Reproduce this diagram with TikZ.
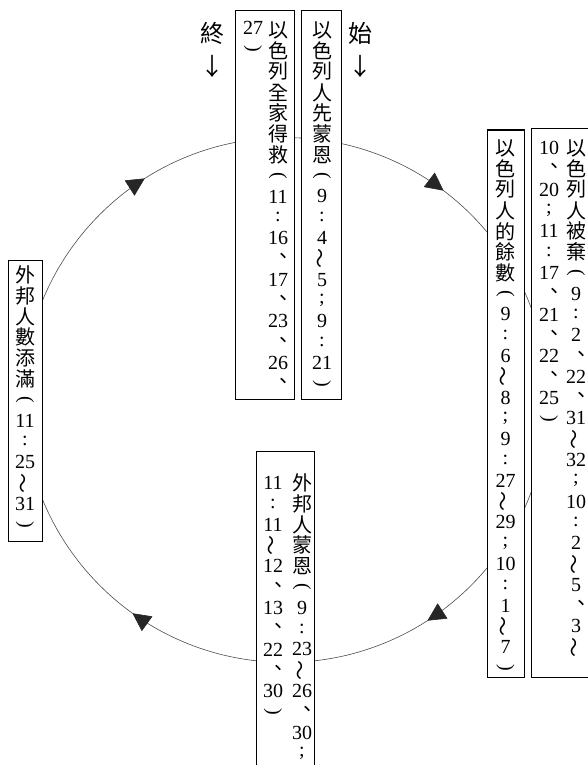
\documentclass[tikz,border=0pt]{standalone}
\usepackage{fontspec}
\usepackage{graphicx}
\usetikzlibrary{arrows.meta,decorations.markings}
\setmainfont{Liberation Serif}
\newfontfamily\cjk{Noto Sans CJK TC}
\XeTeXinterchartokenstate=1
\newXeTeXintercharclass\CJKcls
\def\setcls#1{\ifx#1\relax\else\XeTeXcharclass`#1=\CJKcls\relax\expandafter\setcls\fi}
\setcls 以色列人先蒙恩全家得救被棄的餘數外邦添滿終始、～↓\relax
\XeTeXinterchartoks 4095 \CJKcls = {\cjk}
\XeTeXinterchartoks 0 \CJKcls = {\cjk}
\newcommand\W{\rotatebox{90}{～}}
\newcommand\D{\kern0.55em、}
\newcommand\Po{\rotatebox{-90}{(}}
\newcommand\Pc{\rotatebox{-90}{)}}
\tikzset{
  cell/.style={inner sep=0pt, anchor=center, font=\fontsize{20}{20}\selectfont},
  lab/.style={inner sep=0pt, anchor=center, font=\fontsize{24}{24}\selectfont},
  box/.style={draw=black, fill=white, line width=1pt, inner sep=0pt},
  circ/.style={draw=black!70, line width=0.6pt},
  tri/.tip={Triangle[length=18pt,width=18pt]}
}
\newcommand\vcol[4]{%
  \foreach \t [count=\i from 0] in {#4} {
    \node[cell] (#1-\i) at (#2, #3+\i*20.8) {\t};
  }%
}
\begin{document}
\begin{tikzpicture}[x=1pt,y=-1pt]
\path[use as bounding box, fill=white] (0,0) rectangle (588,765);
\clip (0,0) rectangle (588,765);
% cycle
\coordinate (C) at (285.4,400);
\draw[circ, postaction={decorate}, decoration={markings,
   mark=at position 0.103 with {\arrow[black!85]{tri}},
   mark=at position 0.409 with {\arrow[black!85]{tri}},
   mark=at position 0.599 with {\arrow[black!85]{tri}},
   mark=at position 0.910 with {\arrow[black!85]{tri}}}]
  (C) ++(-90:262.4) arc[start angle=-90, end angle=270, radius=262.4];
% boxes
\node[box, minimum width=34pt, minimum height=281pt] (bl) at (25,400.5) {};
\node[box, minimum width=59pt, minimum height=388pt] (be) at (264.5,205) {};
\node[box, minimum width=40pt, minimum height=388pt] (bs) at (321,205) {};
\node[box, minimum width=37pt, minimum height=547pt] (ba) at (505.5,403.5) {};
\node[box, minimum width=79pt, minimum height=548pt] (bb) at (570.5,403) {};
\node[box, minimum width=58pt, minimum height=349pt] (bd) at (285,625.5) {};
% labels
\node[lab] (end) at (212,33) {終};
\node[lab] (endarrow) at (212,66) {↓};
\node[lab] (start) at (360,33) {始};
\node[lab] (startarrow) at (360,66) {↓};
% texts
\vcol{s}{322}{30}{以,色,列,人,先,蒙,恩,\Po,9,:,4,\W,5,;,9,:,21,\Pc}
\vcol{ea}{278}{30}{以,色,列,全,家,得,救,\Po,11,:,16,\D,17,\D,23,\D,26,\D}
\vcol{eb}{253}{28}{27,\Pc}
\vcol{l}{25}{275}{外,邦,人,數,添,滿,\Po,11,:,25,\W,31,\Pc}
\vcol{a}{505.5}{148}{以,色,列,人,的,餘,數,\Po,9,:,6,\W,8,;,9,:,27,\W,29,;,10,:,1,\W,7,\Pc}
\vcol{ba}{576}{148}{以,色,列,人,被,棄,\Po,9,:,2,\D,22,\D,31,\W,32,;,10,:,2,\W,5,\D,3,\W}
\vcol{bb}{549}{148}{10,\D,20,;,11,:,17,\D,21,\D,22,\D,25,\Pc}
\vcol{da}{302}{483}{外,邦,人,蒙,恩,\Po,9,:,23,\W,26,\D,30,;}
\vcol{db}{273}{483}{11,:,11,\W,12,\D,13,\D,22,\D,30,\Pc}
\end{tikzpicture}
\end{document}
